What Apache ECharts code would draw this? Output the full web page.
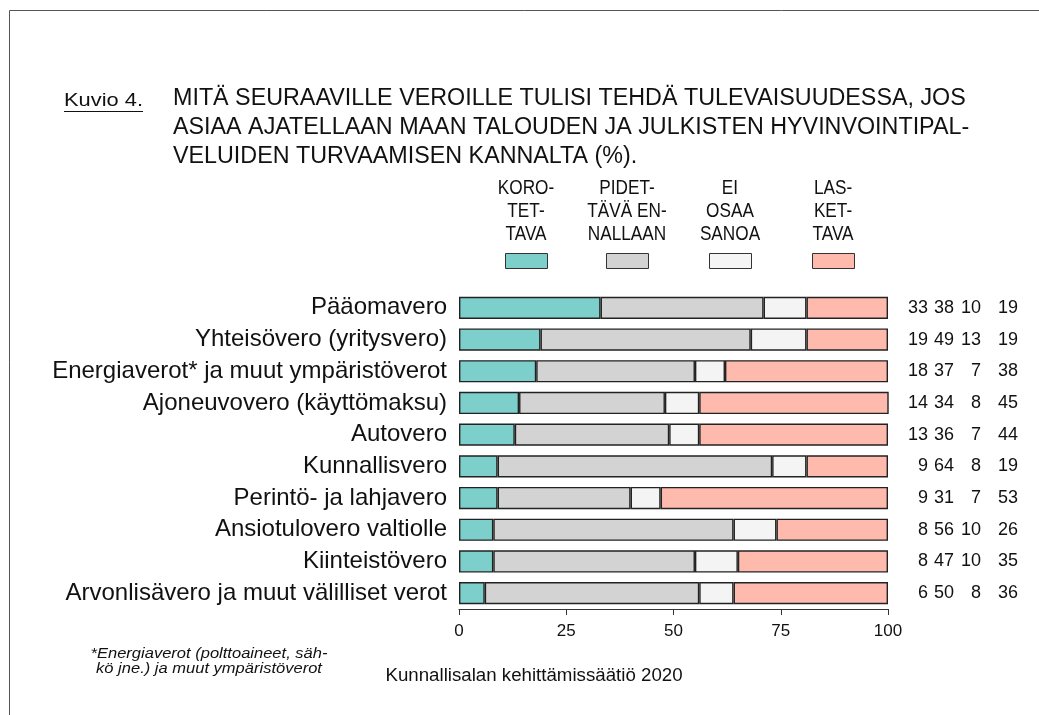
<!DOCTYPE html>
<html><head><meta charset="utf-8">
<script src="https://cdn.jsdelivr.net/npm/echarts@6/dist/echarts.min.js"></script>
<style>html,body{margin:0;padding:0;background:#fff}#c{width:1039px;height:715px}</style>
</head><body><div id="c"></div>
<script>
const categories = ['Pääomavero','Yhteisövero (yritysvero)','Energiaverot* ja muut ympäristöverot','Ajoneuvovero (käyttömaksu)','Autovero','Kunnallisvero','Perintö- ja lahjavero','Ansiotulovero valtiolle','Kiinteistövero','Arvonlisävero ja muut välilliset verot'];
const korotettava = [33,19,18,14,13,9,9,8,8,6];
const pidettava = [38,49,37,34,36,64,31,56,47,50];
const eiOsaa = [10,13,7,8,7,8,7,10,10,8];
const laskettava = [19,19,38,45,44,19,53,26,35,36];
const seriesNames = ['Korotettava','Pidettävä ennallaan','Ei osaa sanoa','Laskettava'];
const legendLabels = ['KORO-\nTET-\nTAVA','PIDET-\nTÄVÄ EN-\nNALLAAN','EI\nOSAA\nSANOA','LAS-\nKET-\nTAVA'];
const xMin = 0, xMax = 100, xInterval = 25;
const titleLines = ['MITÄ SEURAAVILLE VEROILLE TULISI TEHDÄ TULEVAISUUDESSA, JOS','ASIAA AJATELLAAN MAAN TALOUDEN JA JULKISTEN HYVINVOINTIPAL-','VELUIDEN TURVAAMISEN KANNALTA (%).'];
const figureLabel = 'Kuvio 4.';
const footnote = ['*Energiaverot (polttoaineet, säh-','kö jne.) ja muut ympäristöverot'];
const sourceText = 'Kunnallisalan kehittämissäätiö 2020';

const colors = ['#7DCFCB','#D3D3D3','#F4F4F4','#FFBAAE'];
const allValues = [korotettava, pidettava, eiOsaa, laskettava];
const FONT = '"Liberation Sans", Arial, sans-serif';

const chart = echarts.init(document.getElementById('c'), null, {renderer:'canvas'});

const legendLeft = [505, 606, 709, 812];
const legends = seriesNames.map((n,i)=>({
  data:[n], left: legendLeft[i], top: 253, padding:0, itemWidth: 42, itemHeight: 15,
  icon:'rect', formatter: ()=>'', selectedMode:false,
  itemStyle:{borderColor:'#333', borderWidth:1}
}));

const numOffsets = [40, 66, 93, 130];
const yAxes = [{
  type:'category', data:categories, inverse:true, gridIndex:0,
  axisLine:{show:false}, axisTick:{show:false}, splitLine:{show:false},
  axisLabel:{fontFamily:FONT, fontSize:24, color:'#111', margin:12}
}].concat(allValues.map((arr,i)=>({
  type:'category', data:categories, inverse:true, position:'right', offset:numOffsets[i],
  axisLine:{show:false}, axisTick:{show:false}, splitLine:{show:false},
  axisLabel:{fontFamily:FONT, fontSize:18, color:'#111', margin:0, align:'right',
    formatter:(v,idx)=>String(arr[idx])}
})));

const graphics = [
  {type:'line', shape:{x1:9.5,y1:10.5,x2:1039,y2:10.5}, style:{stroke:'#555',lineWidth:1}},
  {type:'line', shape:{x1:9.5,y1:10.5,x2:9.5,y2:715}, style:{stroke:'#555',lineWidth:1}},
  {type:'text', x:64, y:101, scaleX:1.15, style:{text:figureLabel, font:'19px '+FONT, fill:'#111', textVerticalAlign:'middle'}},
  {type:'line', shape:{x1:64,y1:111.5,x2:143,y2:111.5}, style:{stroke:'#111',lineWidth:1}},
  {type:'text', x:173, y:84.5, style:{text:titleLines.join('\n'), font:'23.3px '+FONT, lineHeight:29, fill:'#111', textVerticalAlign:'top'}},
  {type:'text', x:209, y:647, scaleX:1.18, style:{text:footnote.join('\n'), font:'italic 14px '+FONT, lineHeight:15, fill:'#111', textAlign:'center', textVerticalAlign:'top'}},
  {type:'text', x:534, y:676, style:{text:sourceText, font:'18.7px '+FONT, fill:'#111', textAlign:'center', textVerticalAlign:'middle'}}
];
legendLabels.forEach((t,i)=>{
  graphics.push({type:'text', x:legendLeft[i]+21, y:176.5, scaleX:0.86,
    style:{text:t, font:'20px '+FONT, lineHeight:23, fill:'#111', textAlign:'center', textVerticalAlign:'top'}});
});

chart.setOption({
  animation:false,
  backgroundColor:'#fff',
  legend: legends,
  grid:{left:459, right:151, top:292, bottom:106, outerBoundsMode:'none'},
  xAxis:{type:'value', min:xMin, max:xMax, interval:xInterval,
    axisLine:{show:true, lineStyle:{color:'#333', width:1}},
    axisTick:{show:true, length:6, lineStyle:{color:'#333'}},
    splitLine:{show:false},
    axisLabel:{fontFamily:FONT, fontSize:17, color:'#111', margin:14}},
  yAxis: yAxes,
  series: allValues.map((arr,i)=>({
    name:seriesNames[i], type:'bar', stack:'total', data:arr, barCategoryGap:'30%',
    itemStyle:{color:colors[i], borderColor:'#222', borderWidth:1.4},
    emphasis:{disabled:true}
  })),
  graphic: graphics
});
</script></body></html>
